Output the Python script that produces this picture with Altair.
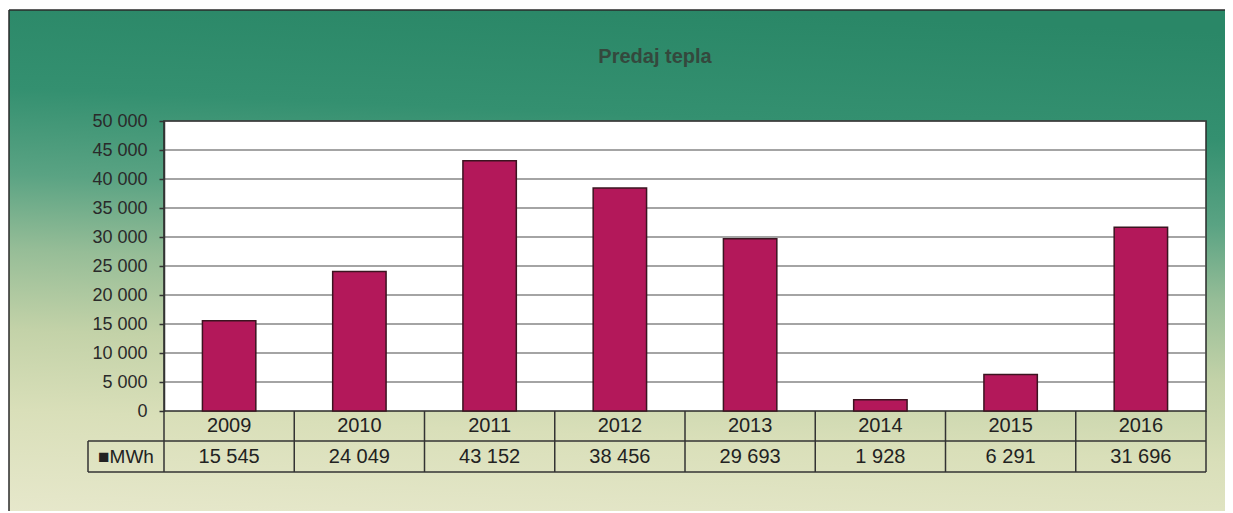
import altair as alt
import pandas as pd

# ---- data ----
years = ["2009", "2010", "2011", "2012", "2013", "2014", "2015", "2016"]
mwh = [15545, 24049, 43152, 38456, 29693, 1928, 6291, 31696]
y_ticks = [0, 5000, 10000, 15000, 20000, 25000, 30000, 35000, 40000, 45000, 50000]
title_text = "Predaj tepla"
series_label = "\u25a0MWh"


def fmt(v):
    return f"{v:,}".replace(",", " ")


df = pd.DataFrame({"year": years, "mwh": mwh, "label": [fmt(v) for v in mwh]})
grid_df = pd.DataFrame({"v": y_ticks[1:]})
one = pd.DataFrame({"k": [0]})

# ---- layout ----
W, H = 1042, 290
PAD_L, PAD_T, PAD_R, PAD_B = 156, 113, 19, 100
ROW = 30
FONT = "Liberation Sans"
LINE = "#333333"

x_scale = alt.Scale(domain=years, paddingInner=0, paddingOuter=0)
y_scale = alt.Scale(domain=[0, 50000], nice=False)
y_axis = alt.Axis(
    values=y_ticks, title=None, grid=False, zindex=1,
    labelExpr="replace(format(datum.value, ','), ',', ' ')",
    labelFont=FONT, labelFontSize=18, labelColor="#2a2a2a",
    tickSize=5, tickColor=LINE, tickWidth=1.5,
    domainColor=LINE, domainWidth=1.5, labelPadding=12,
)

gradient = alt.Gradient(
    gradient="linear",
    stops=[
        alt.GradientStop(color="#2a8767", offset=0.0),
        alt.GradientStop(color="#349070", offset=0.2),
        alt.GradientStop(color="#5aa383", offset=0.36),
        alt.GradientStop(color="#96bd97", offset=0.5),
        alt.GradientStop(color="#c3d2a8", offset=0.65),
        alt.GradientStop(color="#d9dfb9", offset=0.8),
        alt.GradientStop(color="#e7e8cc", offset=1.0),
    ],
    x1=0.55, y1=0, x2=0.45, y2=1,
)

BG_X0, BG_Y0 = -155, -111
BG_X1, BG_Y1 = W + PAD_R + 30, H + PAD_B + 30

bg = alt.Chart(one).mark_rect(fill=gradient).encode(
    x=alt.value(BG_X0), x2=alt.value(BG_X1),
    y=alt.value(BG_Y0), y2=alt.value(BG_Y1),
)
bg_left = alt.Chart(one).mark_rule(color="#2a2a2a", strokeWidth=1.5).encode(
    x=alt.value(BG_X0), y=alt.value(BG_Y0), y2=alt.value(BG_Y1)
)
bg_top = alt.Chart(one).mark_rule(color="#2a2a2a", strokeWidth=1.5).encode(
    x=alt.value(BG_X0), x2=alt.value(BG_X1), y=alt.value(BG_Y0)
)

plot_bg = alt.Chart(one).mark_rect(fill="white", stroke="#2a2a2a", strokeWidth=1.5).encode(
    x=alt.value(0), x2=alt.value(W), y=alt.value(0), y2=alt.value(H)
)

grid = alt.Chart(grid_df).mark_rule(color="#4a4a4a", strokeWidth=1.2).encode(
    y=alt.Y("v:Q", scale=y_scale, axis=y_axis)
)

bars = alt.Chart(df).mark_bar(
    width=alt.RelativeBandSize(0.41), fill="#b3185a", stroke="#3b1420", strokeWidth=1.5
).encode(
    x=alt.X("year:N", scale=x_scale, axis=None, sort=years),
    y=alt.Y("mwh:Q", scale=y_scale, axis=y_axis),
)

vrules = alt.Chart(df).mark_rule(color=LINE, strokeWidth=1.5).encode(
    x=alt.X("year:N", scale=x_scale, axis=None, sort=years, bandPosition=0),
    y=alt.value(H), y2=alt.value(H + 2 * ROW + 1),
)
vend = alt.Chart(one).mark_rule(color=LINE, strokeWidth=1.5).encode(
    x=alt.value(W), y=alt.value(H), y2=alt.value(H + 2 * ROW + 1)
)
vlabel = alt.Chart(one).mark_rule(color=LINE, strokeWidth=1.5).encode(
    x=alt.value(-76), y=alt.value(H + ROW), y2=alt.value(H + 2 * ROW + 1)
)
h1 = alt.Chart(one).mark_rule(color=LINE, strokeWidth=1.5).encode(
    x=alt.value(-76), x2=alt.value(W), y=alt.value(H + ROW)
)
h2 = alt.Chart(one).mark_rule(color=LINE, strokeWidth=1.5).encode(
    x=alt.value(-76), x2=alt.value(W), y=alt.value(H + 2 * ROW + 1)
)

year_text = alt.Chart(df).mark_text(font=FONT, fontSize=20, color="#222222").encode(
    x=alt.X("year:N", scale=x_scale, axis=None, sort=years),
    y=alt.value(H + 15), text="year:N",
)
val_text = alt.Chart(df).mark_text(font=FONT, fontSize=20, color="#222222").encode(
    x=alt.X("year:N", scale=x_scale, axis=None, sort=years),
    y=alt.value(H + 46), text="label:N",
)
mwh_label = alt.Chart(one).mark_text(
    font=FONT, fontSize=19, color="#222222", text=series_label
).encode(x=alt.value(-38), y=alt.value(H + 46))

title = alt.Chart(one).mark_text(
    font=FONT, fontSize=20, fontWeight="bold", color="#34483d", text=title_text
).encode(x=alt.value(491), y=alt.value(-64))

chart = alt.layer(
    bg, bg_left, bg_top, plot_bg, grid, bars, vrules, vend, vlabel, h1, h2,
    year_text, val_text, mwh_label, title,
).properties(
    width=W, height=H,
    padding={"left": PAD_L, "top": PAD_T, "right": PAD_R, "bottom": PAD_B},
    autosize=alt.AutoSizeParams(type="none"),
    background="white",
).configure_view(stroke=None)

chart.save("out.html", embed_options={"renderer": "svg", "actions": False})
